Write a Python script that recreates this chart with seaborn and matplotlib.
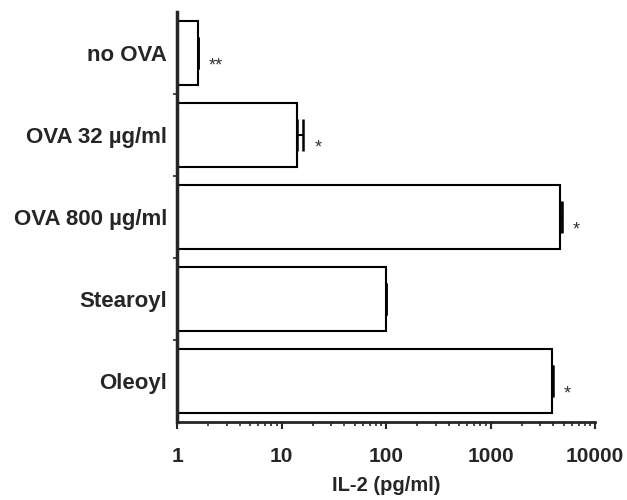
import matplotlib
matplotlib.use("Agg")
import matplotlib.pyplot as plt
import seaborn as sns
import numpy as np
from matplotlib.ticker import LogLocator, FixedLocator, NullFormatter

categories = ["no OVA", "OVA 32 µg/ml", "OVA 800 µg/ml", "Stearoyl", "Oleoyl"]
il2_mean = [1.58, 14.0, 4620, 100, 3900]
il2_err = [0.0, 2.2, 170, 0.0, 30]
significance = ["**", "*", "*", "", "*"]
xticks = [1, 10, 100, 1000, 10000]
xtick_labels = ["1", "10", "100", "1000", "10000"]

sns.set_style("ticks")
plt.rcParams["font.family"] = ["Liberation Sans", "DejaVu Sans"]

fig = plt.figure(figsize=(6.27, 5.0), dpi=100)
ax = fig.add_axes([0.2823, 0.156, 0.6667, 0.82])

sns.barplot(x=il2_mean, y=categories, orient="h", color="white",
            edgecolor="black", linewidth=1.5, width=0.78, ax=ax, errorbar=None)
ax.set_xscale("log")
ax.errorbar(il2_mean, np.arange(len(categories)),
            xerr=[np.zeros(len(il2_err)), il2_err], fmt="none",
            ecolor="black", elinewidth=1.5, capsize=11.5, capthick=1.8)

for i, (v, e, s) in enumerate(zip(il2_mean, il2_err, significance)):
    if s:
        ax.annotate(s, xy=(v + e, i), xytext=(8, -9), textcoords="offset points",
                    ha="left", va="center", fontsize=13, color="#333333")

ax.set_xlim(1, 10000)
ax.set_ylim(4.5, -0.5)
ax.xaxis.set_major_locator(FixedLocator(xticks))
ax.set_xticklabels(xtick_labels)
ax.xaxis.set_minor_locator(LogLocator(base=10, subs=np.arange(2, 10), numticks=20))
ax.xaxis.set_minor_formatter(NullFormatter())
ax.set_xlabel("IL-2 (pg/ml)", fontsize=14.5, fontweight="bold", labelpad=7)
ax.set_ylabel("")

ax.set_yticks(range(len(categories)))
ax.set_yticklabels(categories, fontsize=16, fontweight="bold")
ax.yaxis.set_minor_locator(FixedLocator([0.5, 1.5, 2.5, 3.5]))
ax.tick_params(axis="y", which="major", length=0, pad=7)
ax.tick_params(axis="y", which="minor", length=3, width=1.2, direction="out")
ax.tick_params(axis="x", which="major", length=5, width=1.5, direction="out",
               labelsize=15, pad=13)
ax.tick_params(axis="x", which="minor", length=3, width=1.2, direction="out")
for lab in ax.get_xticklabels():
    lab.set_fontweight("bold")

for side in ["top", "right"]:
    ax.spines[side].set_visible(False)
ax.spines["left"].set_linewidth(2.5)
ax.spines["bottom"].set_linewidth(2.0)

fig.savefig("out.png", dpi=100)
